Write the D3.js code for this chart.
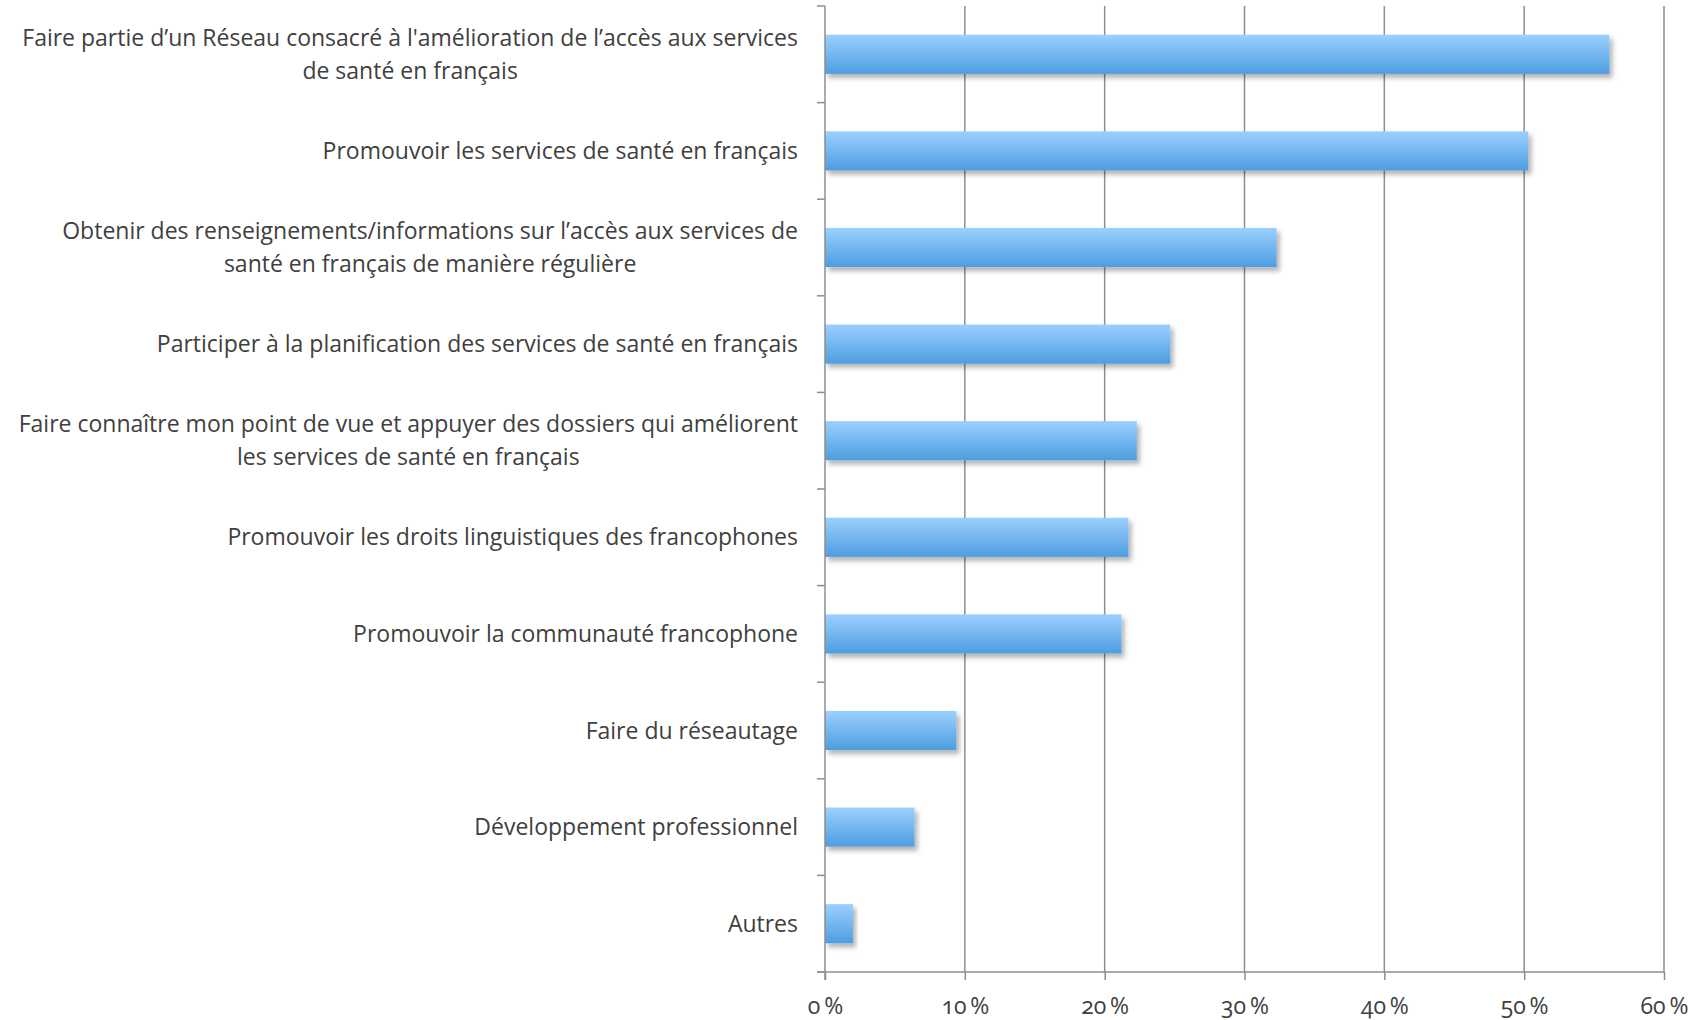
<!DOCTYPE html>
<html>
<head>
<meta charset="utf-8">
<script src="https://cdn.jsdelivr.net/npm/d3@7"></script>
<style>
  body { margin: 0; background: #fff; }
  text { font-family: "Open Sans", Lato, sans-serif; fill: #404040; }
</style>
</head>
<body>
<div id="viz1"></div>
<script>
// categories (line breaks as in the original)
var categories = [
  "Faire partie d\u2019un Réseau consacré à l'amélioration de l\u2019accès aux services\nde santé en français",
  "Promouvoir les services de santé en français",
  "Obtenir des renseignements/informations sur l\u2019accès aux services de\nsanté en français de manière régulière",
  "Participer à la planification des services de santé en français",
  "Faire connaître mon point de vue et appuyer des dossiers qui améliorent\nles services de santé en français",
  "Promouvoir les droits linguistiques des francophones",
  "Promouvoir la communauté francophone",
  "Faire du réseautage",
  "Développement professionnel",
  "Autres"
];

// percentages
var values = [56.1, 50.3, 32.3, 24.7, 22.3, 21.7, 21.2, 9.4, 6.4, 2.0];

// x ticks
var xTicks = [0, 10, 20, 30, 40, 50, 60];

var W = 1707, H = 1020;
var margin = {top: 6, right: 43, bottom: 48, left: 825},
    width = W - margin.left - margin.right,
    height = H - margin.top - margin.bottom;

var svg = d3.select("#viz1")
  .append("svg")
    .attr("width", W)
    .attr("height", H);

var defs = svg.append("defs");
var grad = defs.append("linearGradient")
    .attr("id", "barGrad")
    .attr("x1", 0).attr("y1", 0).attr("x2", 0).attr("y2", 1);
grad.append("stop").attr("offset", "0%").attr("stop-color", "#9bd0ff");
grad.append("stop").attr("offset", "100%").attr("stop-color", "#4e9de0");

var shadow = defs.append("filter").attr("id", "shadow")
    .attr("x", "-5%").attr("y", "-20%").attr("width", "120%").attr("height", "160%");
shadow.append("feDropShadow")
    .attr("dx", 3).attr("dy", 4).attr("stdDeviation", 2.5)
    .attr("flood-color", "#000").attr("flood-opacity", 0.3);

var g = svg.append("g")
    .attr("transform", "translate(" + margin.left + "," + margin.top + ")");

var x = d3.scaleLinear()
  .domain([0, 60])
  .range([0, width]);

var y = d3.scaleBand()
  .domain(categories)
  .range([0, height])
  .paddingInner(0.595)
  .paddingOuter(0.2975);

// gridlines
g.append("g")
  .selectAll("line")
  .data(xTicks.slice(1))
  .enter().append("line")
    .attr("x1", function(d) { return x(d); })
    .attr("x2", function(d) { return x(d); })
    .attr("y1", 0)
    .attr("y2", height)
    .attr("stroke", "#8e8e8e")
    .attr("stroke-width", 1.5);

// bars
g.append("g")
  .selectAll("rect")
  .data(values)
  .enter().append("rect")
    .attr("x", x(0))
    .attr("y", function(d, i) { return y(categories[i]); })
    .attr("width", function(d) { return x(d) - x(0); })
    .attr("height", y.bandwidth())
    .attr("fill", "url(#barGrad)")
    .attr("filter", "url(#shadow)");

// x axis
var xAxis = g.append("g")
  .attr("transform", "translate(0," + height + ")")
  .call(d3.axisBottom(x).tickValues(xTicks).tickSize(8).tickSizeOuter(0)
    .tickFormat(function(d) { return d + "\u2009%"; }));
xAxis.select(".domain").remove();
xAxis.append("line")
  .attr("x1", -8).attr("x2", width)
  .attr("stroke", "#8e8e8e").attr("stroke-width", 1.5);
xAxis.selectAll(".tick line").attr("stroke", "#8e8e8e").attr("stroke-width", 1.5);
xAxis.selectAll(".tick text")
  .attr("y", 26)
  .attr("dy", "0.71em")
  .style("font-size", "23px")
  .style("font-variant-numeric", "oldstyle-nums")
  .attr("fill", "#404040");

// y axis: line + ticks at band boundaries
var bounds = d3.range(categories.length + 1).map(function(i) { return i * height / categories.length; });
g.append("line")
  .attr("x1", 0).attr("x2", 0).attr("y1", 0).attr("y2", height + 8)
  .attr("stroke", "#8e8e8e").attr("stroke-width", 1.5);
g.append("g")
  .selectAll("line")
  .data(bounds)
  .enter().append("line")
    .attr("x1", -8).attr("x2", 0)
    .attr("y1", function(d) { return d; })
    .attr("y2", function(d) { return d; })
    .attr("stroke", "#8e8e8e").attr("stroke-width", 1.5);

// category labels
var labels = g.append("g")
  .selectAll("text")
  .data(categories)
  .enter().append("text")
    .attr("text-anchor", "middle")
    .style("font-size", "23px");

labels.each(function(d) {
  var lines = d.split("\n");
  var cy = y(d) + y.bandwidth() / 2;
  var lh = 33;
  var t = d3.select(this);
  lines.forEach(function(line, k) {
    t.append("tspan")
      .attr("x", 0)
      .attr("y", cy + (k - (lines.length - 1) / 2) * lh)
      .attr("dy", "0.35em")
      .text(line);
  });
  // right-align the block, each line centred within it
  var bw = this.getBBox().width;
  t.selectAll("tspan").attr("x", -27 - bw / 2);
});
</script>
</body>
</html>
